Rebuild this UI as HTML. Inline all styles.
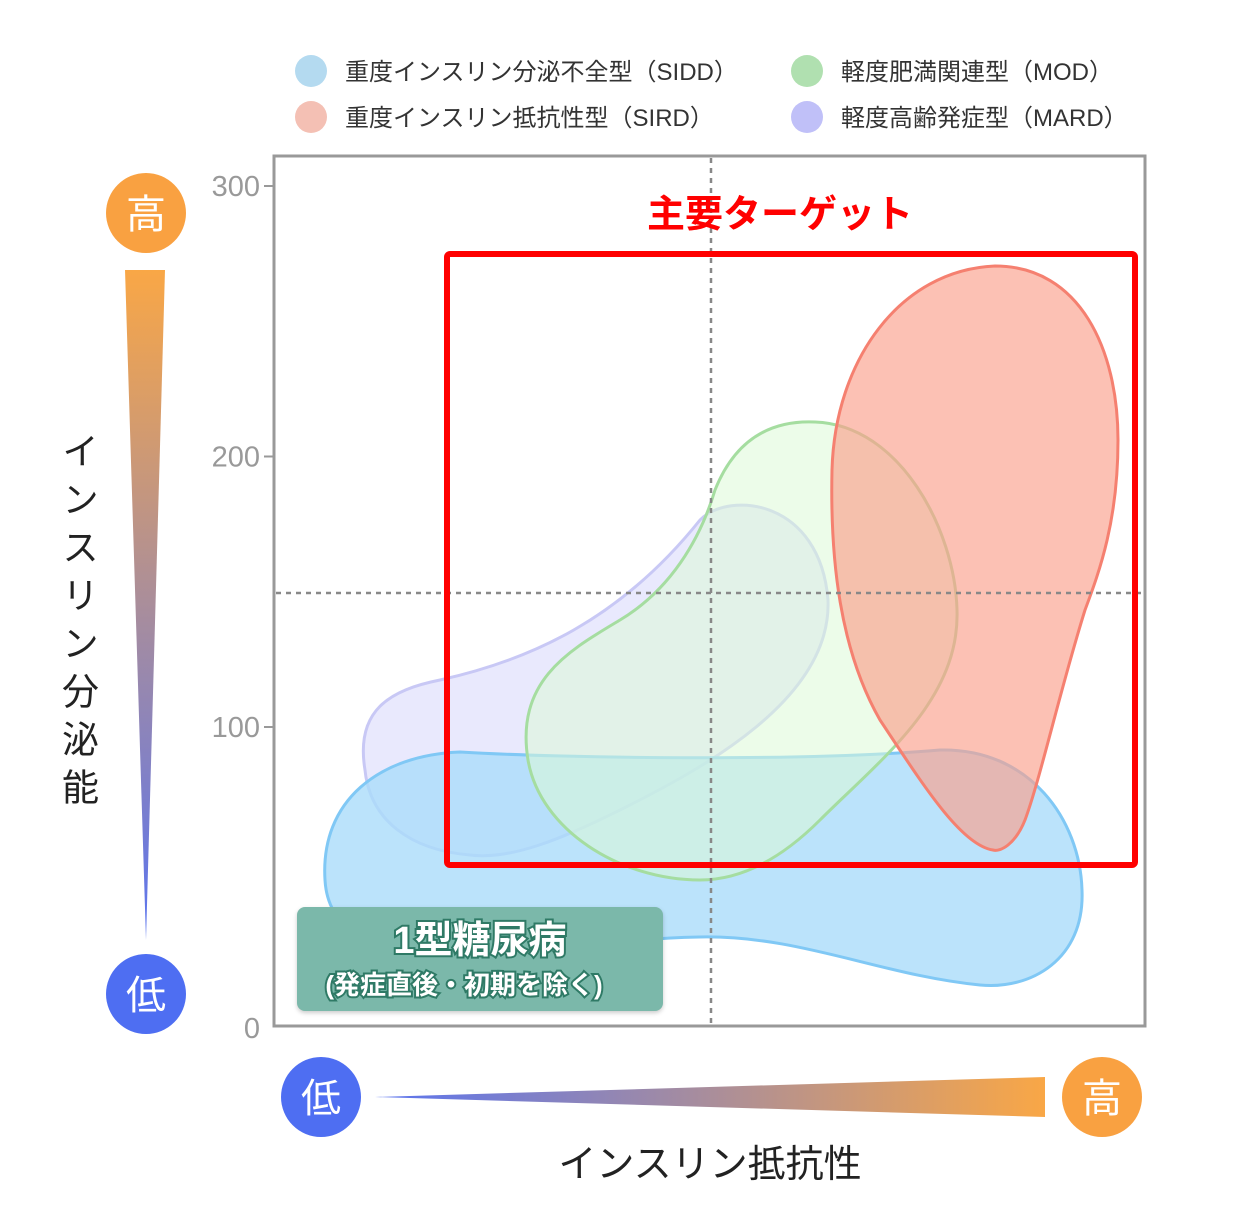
<!DOCTYPE html>
<html><head><meta charset="utf-8"><style>
body{margin:0;background:#fff}
svg text{font-family:"Liberation Sans","Noto Sans CJK JP",sans-serif}
</style></head><body>
<svg width="1251" height="1214" viewBox="0 0 1251 1214" xmlns="http://www.w3.org/2000/svg">
<defs>
<linearGradient id="gv" x1="0" y1="0" x2="0" y2="1"><stop offset="0" stop-color="#f9a746"/><stop offset="1" stop-color="#5a74f0"/></linearGradient>
<linearGradient id="gh" x1="0" y1="0" x2="1" y2="0"><stop offset="0" stop-color="#5a74f0"/><stop offset="1" stop-color="#f9a746"/></linearGradient>
</defs>
<g font-size="24" fill="#333">
<circle cx="311" cy="71" r="16" fill="#b4daf0"/>
<text x="345" y="80">重度インスリン分泌不全型（SIDD）</text>
<circle cx="311" cy="117" r="16" fill="#f4c0b4"/>
<text x="345" y="126">重度インスリン抵抗性型（SIRD）</text>
<circle cx="807" cy="71" r="16" fill="#b0e0b0"/>
<text x="841" y="80">軽度肥満関連型（MOD）</text>
<circle cx="807" cy="117" r="16" fill="#c0c0f8"/>
<text x="841" y="126">軽度高齢発症型（MARD）</text>
</g>
<g id="ticks"></g>
<rect x="274" y="156" width="871" height="870" fill="none" stroke="#999" stroke-width="3"/>
<path d="M365 770C355 710 390 690 440 680C530 660 620 620 700 520C730 490 820 500 828 600C832 700 700 770 620 810C560 840 510 860 470 855C410 850 370 820 365 770Z" fill="rgba(200,200,250,0.4)" stroke="#c8c8f5" stroke-width="3"/>
<path d="M325 880C320 800 380 755 460 752C560 758 800 762 940 750C1030 748 1080 820 1082 890C1085 960 1030 990 980 985C880 975 800 935 700 937C600 938 560 960 460 958C380 956 328 935 325 880Z" fill="rgba(170,220,250,0.8)" stroke="#80c8f5" stroke-width="3"/>
<path d="M528 760C515 680 570 650 620 620C670 590 700 540 715 490C735 440 770 420 815 422C900 425 955 530 957 610C960 700 880 760 820 820C780 860 740 880 700 880C620 880 540 830 528 760Z" fill="rgba(220,250,215,0.55)" stroke="#a5dda0" stroke-width="3"/>
<path d="M993 850C960 845 920 780 880 720C840 650 830 560 832 470C835 360 900 270 995 266C1080 266 1118 350 1118 440C1118 520 1100 570 1085 610C1060 690 1040 780 1025 820C1015 845 1000 852 993 850Z" fill="rgba(250,160,140,0.65)" stroke="#f58070" stroke-width="3"/>
<line x1="711" y1="158" x2="711" y2="1024" stroke="#888" stroke-width="2.5" stroke-dasharray="5 5"/>
<line x1="276" y1="593" x2="1143" y2="593" stroke="#888" stroke-width="2.5" stroke-dasharray="5 5"/>
<rect x="447" y="254" width="688" height="611" rx="3" fill="none" stroke="#f00" stroke-width="6"/>
<text x="780" y="227" text-anchor="middle" font-size="38" font-weight="bold" fill="#f00">主要ターゲット</text>
<g>
<rect x="297" y="907" width="366" height="104" rx="8" fill="#7bb8aa" style="filter:drop-shadow(0 2px 2px rgba(0,0,0,.2))"/>
<text x="480" y="953" text-anchor="middle" font-size="38" fill="#fff" stroke="#2f7a66" stroke-width="4" paint-order="stroke" font-weight="bold">1型糖尿病</text>
<text x="464" y="994" text-anchor="middle" font-size="26" fill="#fff" stroke="#2f7a66" stroke-width="4" paint-order="stroke" font-weight="bold">(発症直後・初期を除く)</text>
</g>
<g>
<polygon points="125,270 165,270 146,940" fill="url(#gv)"/>
<circle cx="146" cy="213" r="40" fill="#f9a141"/>
<text x="146" y="228" text-anchor="middle" font-size="40" fill="#fff">高</text>
<circle cx="146" cy="994" r="40" fill="#4e6ef2"/>
<text x="146" y="1009" text-anchor="middle" font-size="40" fill="#fff">低</text>
<text x="77" y="432" font-size="37" fill="#222" style="writing-mode:vertical-rl;letter-spacing:11px">インスリン分泌能</text>
</g>
<g>
<polygon points="375,1097 1045,1077 1045,1117" fill="url(#gh)"/>
<circle cx="321" cy="1097" r="40" fill="#4e6ef2"/>
<text x="321" y="1112" text-anchor="middle" font-size="40" fill="#fff">低</text>
<circle cx="1102" cy="1097" r="40" fill="#f9a141"/>
<text x="1102" y="1112" text-anchor="middle" font-size="40" fill="#fff">高</text>
<text x="710" y="1177" text-anchor="middle" font-size="38" fill="#222">インスリン抵抗性</text>
</g>
<script>
const tickValues=[100,200,300];
const tickLabels=["100","200","300"];
const y=v=>997.5-(v)*2.705;
const g=document.getElementById('ticks');
const ns='http://www.w3.org/2000/svg';
tickValues.forEach((v,i)=>{
 const l=document.createElementNS(ns,'line');
 l.setAttribute('x1',264);l.setAttribute('x2',274);l.setAttribute('y1',y(v));l.setAttribute('y2',y(v));
 l.setAttribute('stroke','#999');l.setAttribute('stroke-width',2);
 
 
 g.appendChild(l);
 const t=document.createElementNS(ns,'text');
 t.setAttribute('x',260);t.setAttribute('y',y(v)+10);t.setAttribute('text-anchor','end');
 t.setAttribute('font-size',29);t.setAttribute('fill','#999');
 t.textContent=tickLabels[i];
 
 
 g.appendChild(t);
});
const z=document.createElementNS(ns,'text');
z.setAttribute('x',260);z.setAttribute('y',1038);z.setAttribute('text-anchor','end');
z.setAttribute('font-size',29);z.setAttribute('fill','#999');z.textContent='0';


g.appendChild(z);
</script>
</svg>
</body></html>
